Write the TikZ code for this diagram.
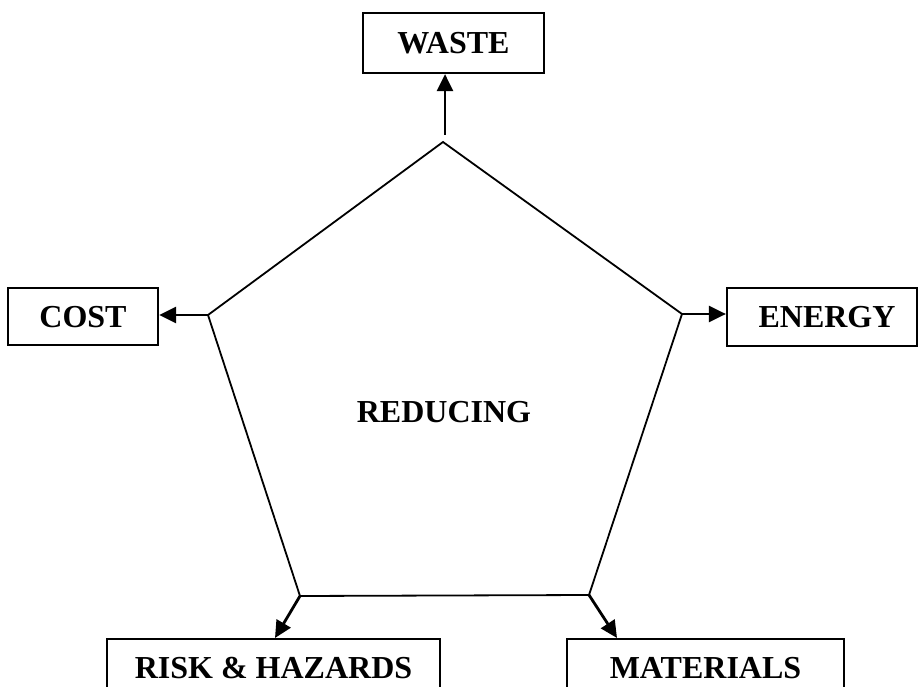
\documentclass[tikz,border=0pt]{standalone}
\usepackage{fontspec}
\setmainfont{Liberation Serif}
\usetikzlibrary{arrows.meta}
\begin{document}
\begin{tikzpicture}[x=1pt,y=-1pt,
  txt/.style={font=\bfseries\fontsize{32}{38}\selectfont,text height=21pt,text depth=0pt,inner sep=0pt},
  box/.style={txt,draw,line width=2.2pt,rectangle},
  edge/.style={line width=1.8pt,line join=miter},
  arr/.style={line width=2.8pt,-{Triangle[length=17pt,width=16pt]}}]
\useasboundingbox (0,0) rectangle (919,687);
\clip (0,0) rectangle (919,687);
% boxes
\node[box,minimum width=181pt,minimum height=60pt] (waste) at (453.5,43) {WASTE};
\node[box,minimum width=150pt,minimum height=57pt] (cost) at (83,316.5) {COST};
\node[box,minimum width=190pt,minimum height=58pt] (energy) at (822,317) {\hspace*{10pt}ENERGY};
\node[box,minimum width=333pt,minimum height=58pt] (risk) at (273.5,668) {RISK \& HAZARDS};
\node[box,minimum width=277pt,minimum height=58pt] (mat) at (705.5,668) {MATERIALS};
% pentagon
\coordinate (vT) at (443,142);
\coordinate (vL) at (208,315);
\coordinate (vR) at (682,314);
\coordinate (vBL) at (300,596);
\coordinate (vBR) at (589,595);
\draw[edge] (vT) -- (vR) -- (vBR) -- (vBL) -- (vL) -- cycle;
\node[txt] (red) at (444,412) {REDUCING};
% arrows
\coordinate (wt) at (445,135);
\coordinate (rend) at (275,638);
\coordinate (mend) at (617,638);
\draw[arr] (wt) -- (waste.south -| wt);
\draw[arr] (vL) -- (cost.east |- vL);
\draw[arr] (vR) -- (energy.west |- vR);
\draw[arr] (vBL) -- (rend);
\draw[arr] (vBR) -- (mend);
\end{tikzpicture}
\end{document}
